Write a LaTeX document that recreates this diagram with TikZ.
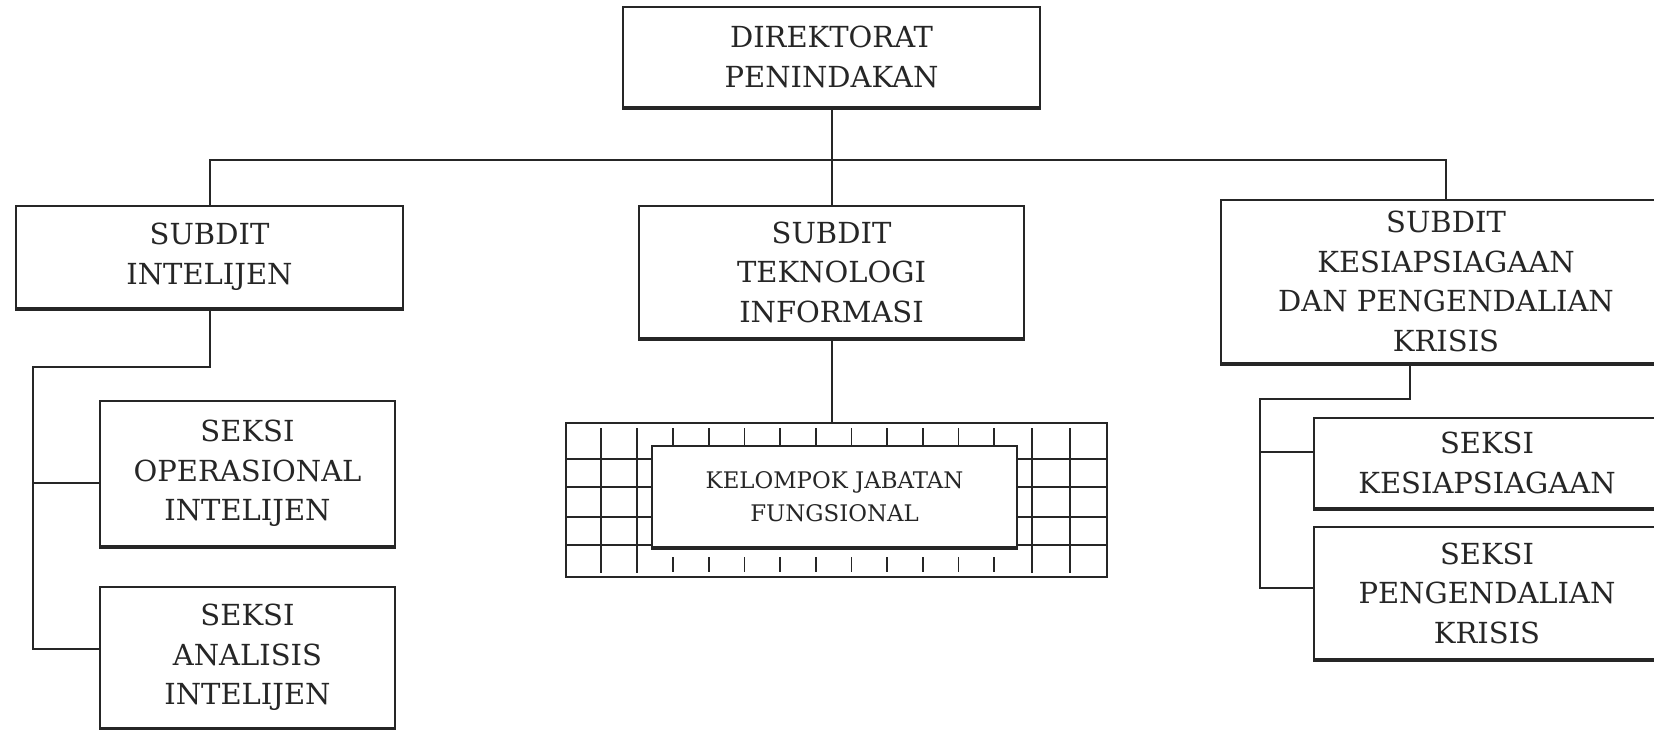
\documentclass[tikz,border=0pt]{standalone}
\usepackage{fontspec}
\setmainfont{DejaVu Serif}
\usepackage{xcolor}
\usepackage{tikz}
\usetikzlibrary{shapes,arrows,positioning}
\definecolor{ink}{gray}{0.15}
\tikzstyle{block} = [rectangle, draw=ink, text=ink, fill=white, line width=0.35mm, align=center, inner sep=0pt, font=\fontsize{16.5}{22.5}\selectfont]
\tikzstyle{line} = [draw=ink, line width=0.4mm]
\tikzstyle{gridline} = [draw=ink, line width=0.35mm]
\tikzstyle{shadowline} = [draw=ink, line width=0.8mm]

\begin{document}
\begin{tikzpicture}[x=0.2mm, y=-0.2mm, node distance=36.8mm]
            \useasboundingbox (0,0) rectangle (1654,730);
            \clip (0,0) rectangle (1654,730);
            \fill[white] (0,0) rectangle (1654,730);

            \node[block, minimum width=83.4mm, minimum height=20mm] (direktorat) at (831.5,57){
                DIREKTORAT\\PENINDAKAN
            };

            \node[block, minimum width=77.4mm, minimum height=20.4mm] (subdit_intelijen) at (209.5,257){
                SUBDIT\\INTELIJEN
            };

            \node[block, minimum width=77mm, minimum height=26.4mm] (subdit_ti) at (831.5,272){
                SUBDIT\\TEKNOLOGI\\INFORMASI
            };

            \node[block, minimum width=90mm, minimum height=32.6mm] (subdit_kesiapsiagaan) at (1446,281.5){
                SUBDIT\\KESIAPSIAGAAN\\DAN PENGENDALIAN\\KRISIS
            };

            \node[block, minimum width=59mm, minimum height=29mm] (seksi_operasional) at (247.5,473.5){
                SEKSI\\OPERASIONAL\\INTELIJEN
            };

            \node[block, minimum width=59mm, minimum height=28.2mm, below of=seksi_operasional] (seksi_analisis){
                SEKSI\\ANALISIS\\INTELIJEN
            };

            \node[block, minimum width=69.2mm, minimum height=18mm] (seksi_kesiapsiagaan) at (1487,463){
                SEKSI\\KESIAPSIAGAAN
            };

            \node[block, minimum width=69.2mm, minimum height=26.4mm, below of=seksi_kesiapsiagaan, node distance=26mm] (seksi_pengendalian){
                SEKSI\\PENGENDALIAN\\KRISIS
            };

            % jabatan fungsional grid
            \node[block, minimum width=108.2mm, minimum height=30.8mm] (kelompok_grid) at (836.5,500){};
            \foreach \y in {459,487,517,545}
                \path[gridline] (566,\y) -- (1107,\y);
            \foreach \x in {601,637,1032,1070}
                \path[gridline] (\x,428) -- (\x,573);
            \foreach \x in {673,708.7,...,995}{
                \path[gridline] (\x,428) -- (\x,446);
                \path[gridline] (\x,557) -- (\x,572);
            }

            \node[block, minimum width=73mm, minimum height=20.2mm, font=\fontsize{13}{19}\selectfont] (kelompok_jabatan) at (834.5,496.5){
                KELOMPOK JABATAN\\FUNGSIONAL
            };

            \foreach \n in {direktorat,subdit_intelijen,subdit_ti,subdit_kesiapsiagaan,seksi_operasional,seksi_analisis,seksi_kesiapsiagaan,seksi_pengendalian,kelompok_jabatan}
                \path[shadowline] (\n.south west) -- (\n.south east);

            \coordinate (bar) at (831.5,160);
            \coordinate (int_joint) at (33,367);
            \coordinate (krisis_joint) at (1260,399);

            \path[line] (direktorat) -- (subdit_ti);
            \path[line] (subdit_intelijen.north) |- (bar) -| (subdit_kesiapsiagaan.north);
            \path[line] (subdit_ti.south) -- (subdit_ti.south |- kelompok_grid.north);

            \path[line] (subdit_intelijen.south) |- (int_joint) |- ([yshift=1.7mm]seksi_analisis.west);
            \path[line] ([yshift=-1.9mm]seksi_operasional.west) -| (int_joint);

            \path[line] ([xshift=-7.2mm]subdit_kesiapsiagaan.south) |- (krisis_joint) |- ([yshift=1mm]seksi_pengendalian.west);
            \path[line] ([yshift=2.2mm]seksi_kesiapsiagaan.west) -| (krisis_joint);

        \end{tikzpicture}
\end{document}
